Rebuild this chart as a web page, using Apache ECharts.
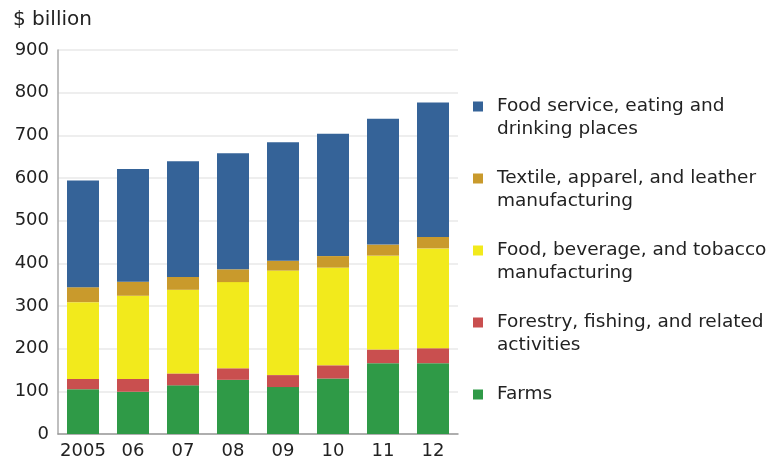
<!DOCTYPE html>
<html><head><meta charset="utf-8">
<script src="https://cdn.jsdelivr.net/npm/echarts@6/dist/echarts.min.js"></script>
<style>html,body{margin:0;padding:0;background:#fff}#c{width:771px;height:463px}</style>
</head><body><div id="c"></div>
<script>
const categories = ['2005','06','07','08','09','10','11','12'];
const farms = [105, 99, 114, 127, 110, 130, 166, 166];
const forestry = [24, 30, 28, 27, 28, 31, 32, 35];
const foodMfg = [180, 195, 196, 202, 245, 229, 220, 234];
const textile = [35, 33, 30, 30, 23, 27, 26, 27];
const foodService = [250, 264, 271, 272, 278, 287, 295, 315];
const yTicks = [0, 100, 200, 300, 400, 500, 600, 700, 800, 900];

const seriesDefs = [
  {name: 'Farms', label: '\nFarms\n', data: farms, color: '#2f9a47'},
  {name: 'Forestry', label: '\nForestry, fishing, and related\nactivities', data: forestry, color: '#c94f4f'},
  {name: 'FoodMfg', label: '\nFood, beverage, and tobacco\nmanufacturing', data: foodMfg, color: '#f2ea1c'},
  {name: 'Textile', label: '\nTextile, apparel, and leather\nmanufacturing', data: textile, color: '#c99a2c'},
  {name: 'FoodService', label: '\nFood service, eating and\ndrinking places', data: foodService, color: '#356398'}
];
const labelMap = {};
seriesDefs.forEach(s => labelMap[s.name] = s.label);

const font = 'DejaVu Sans';
const chart = echarts.init(document.getElementById('c'));
chart.setOption({
  animation: false,
  textStyle: {fontFamily: font},
  title: {text: '$ billion', left: 8, top: 5, textStyle: {fontFamily: font, fontSize: 20, fontWeight: 'normal', color: '#222'}},
  grid: {left: 58, right: 313, top: 50, bottom: 29},
  legend: {
    orient: 'vertical', left: 468, top: 67,
    data: seriesDefs.map(s => s.name).reverse(),
    icon: 'rect', itemWidth: 10, itemHeight: 10, itemGap: 3,
    formatter: n => labelMap[n],
    textStyle: {fontFamily: font, fontSize: 18.5, color: '#222', lineHeight: 23, padding: [0, 0, 0, 9]},
    selectedMode: false
  },
  xAxis: {
    type: 'category', data: categories,
    axisLine: {lineStyle: {color: '#999', width: 1.5}},
    axisTick: {show: false},
    axisLabel: {fontFamily: font, fontSize: 18, color: '#222', margin: 8, interval: 0}
  },
  yAxis: {
    type: 'value', min: 0, max: 900, interval: 100,
    axisLine: {show: true, lineStyle: {color: '#aaa', width: 1.5}},
    axisTick: {show: false},
    splitLine: {lineStyle: {color: '#e8e8e8', width: 1.5}},
    axisLabel: {fontFamily: font, fontSize: 18, color: '#222', margin: 9,
      formatter: v => yTicks.includes(v) ? String(v) : ''}
  },
  series: seriesDefs.map(s => ({
    name: s.name, type: 'bar', stack: 'total', data: s.data,
    barWidth: 32, itemStyle: {color: s.color}
  }))
});
</script></body></html>
